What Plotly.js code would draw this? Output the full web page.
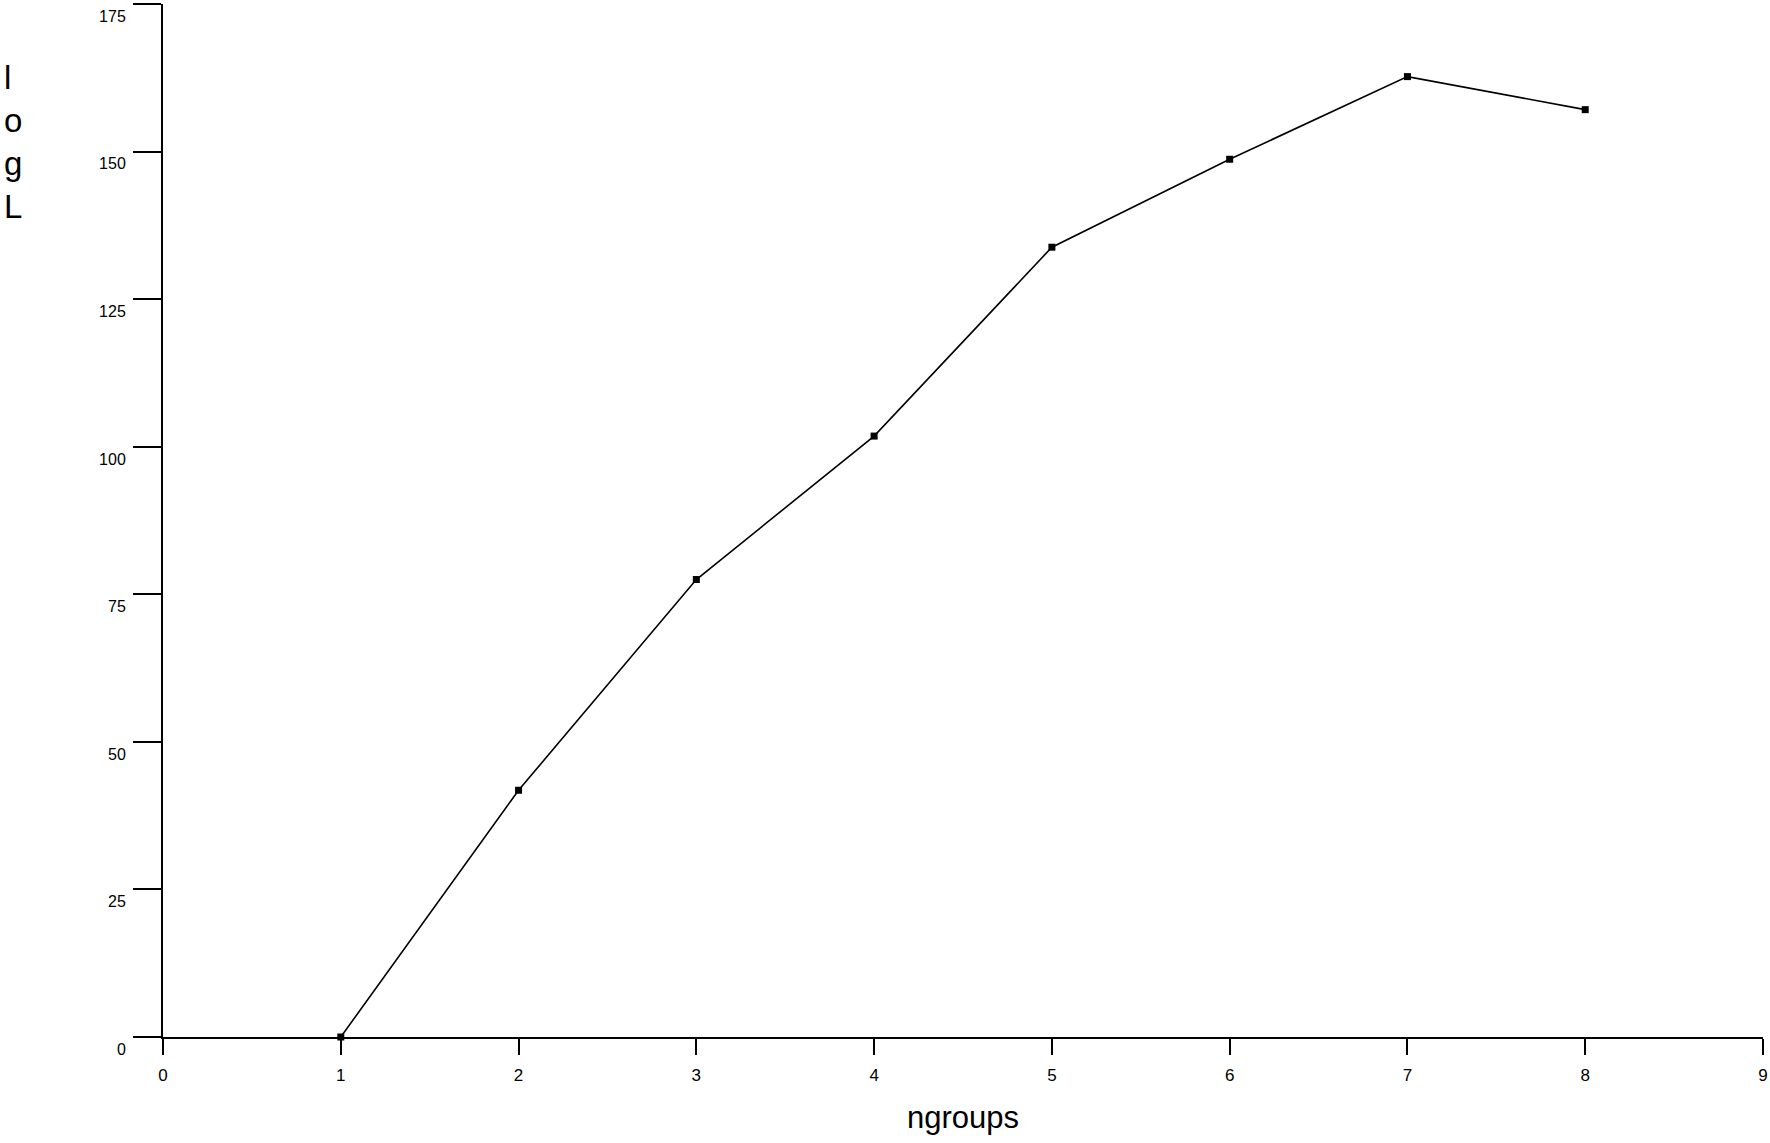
<!DOCTYPE html>
<html>
<head>
<meta charset="utf-8">
<script src="https://cdn.plot.ly/plotly-3.0.1.min.js"></script>
<style>html,body{margin:0;padding:0;background:#fff;}#chart{width:1770px;height:1143px;}</style>
</head>
<body>
<div id="chart"></div>
<script>
const ngroups = [1, 2, 3, 4, 5, 6, 7, 8];
const logL = [0, 41.8, 77.5, 101.8, 133.8, 148.7, 162.7, 157.1];
const xTicks = [0, 1, 2, 3, 4, 5, 6, 7, 8, 9];
const yTicks = [0, 25, 50, 75, 100, 125, 150, 175];

const trace = {
  x: ngroups,
  y: logL,
  type: 'scatter',
  mode: 'lines+markers',
  line: {color: '#000', width: 1.6},
  marker: {symbol: 'square', size: 7, color: '#000'},
  cliponaxis: false,
  hoverinfo: 'skip'
};

const layout = {
  width: 1770,
  height: 1143,
  margin: {l: 163, r: 7, t: 4, b: 106},
  paper_bgcolor: '#fff',
  plot_bgcolor: '#fff',
  showlegend: false,
  font: {family: 'Liberation Sans, Arial, sans-serif', color: '#000'},
  xaxis: {
    range: [0, 9],
    tickmode: 'array',
    tickvals: xTicks,
    ticktext: xTicks.map(String),
    showgrid: false,
    zeroline: false,
    showline: true,
    linecolor: '#000',
    linewidth: 2,
    ticks: 'outside',
    ticklen: 16,
    tickwidth: 2,
    tickcolor: '#000',
    tickfont: {size: 17, family: 'Liberation Sans, Arial, sans-serif'},
    ticklabelstandoff: 6,
    title: {text: 'ngroups', font: {size: 31, family: 'Liberation Sans, Arial, sans-serif'}, standoff: 22}
  },
  yaxis: {
    range: [0, 175],
    tickmode: 'array',
    tickvals: yTicks,
    ticktext: yTicks.map(String),
    showgrid: false,
    zeroline: false,
    showline: true,
    linecolor: '#000',
    linewidth: 2,
    ticks: 'outside',
    ticklen: 28,
    tickwidth: 2,
    tickcolor: '#000',
    ticklabelposition: 'outside bottom',
    ticklabelstandoff: 32,
    ticklabeloverflow: 'allow',
    tickfont: {size: 16, family: 'Liberation Sans Narrow, Liberation Sans, Arial, sans-serif'}
  },
  annotations: [{
    text: 'l<br>o<br>g<br>L',
    xref: 'paper', yref: 'paper',
    x: -0.094, y: 0.866,
    xanchor: 'center', yanchor: 'middle',
    showarrow: false,
    align: 'left',
    font: {size: 33, family: 'Liberation Sans, Arial, sans-serif', color: '#000'}
  }]
};

Plotly.newPlot('chart', [trace], layout, {displayModeBar: false, staticPlot: true});
</script>
</body>
</html>
